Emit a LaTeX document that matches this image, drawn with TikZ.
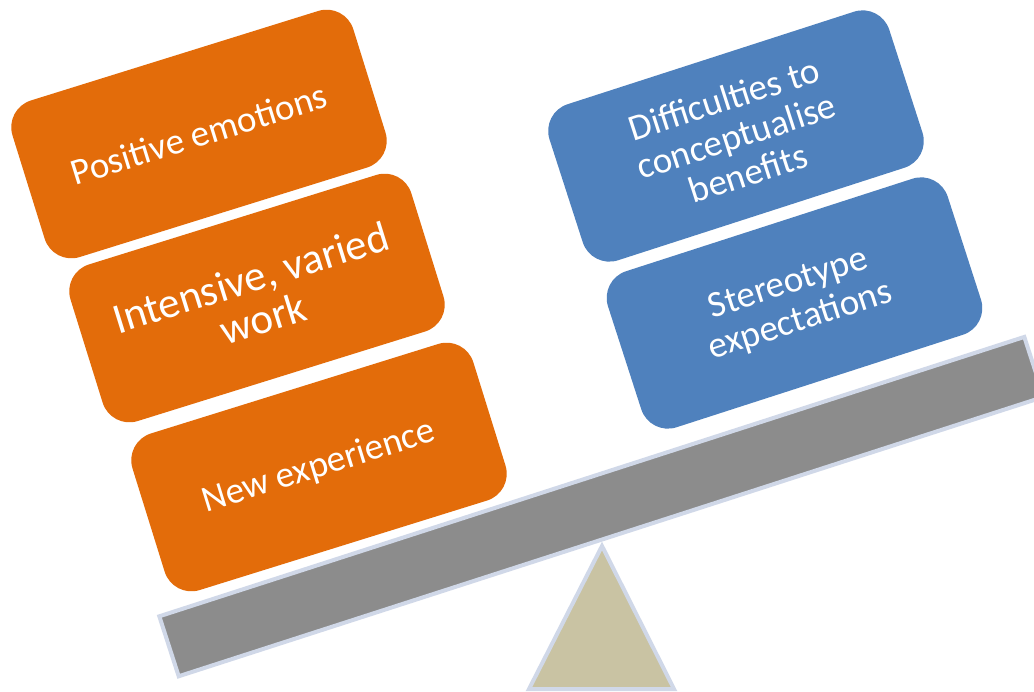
\documentclass[tikz,border=0pt]{standalone}
\usepackage{fontspec}
\setmainfont{Carlito}
\definecolor{boxorange}{HTML}{E36C0A}
\definecolor{boxblue}{HTML}{4F81BD}
\definecolor{beamgray}{HTML}{8C8C8C}
\definecolor{rimblue}{HTML}{D0D8E8}
\definecolor{fulcrum}{HTML}{C9C3A3}
\begin{document}
\begin{tikzpicture}[x=1pt,y=-1pt,
  card/.style={rectangle, rounded corners=28pt, minimum width=357pt, minimum height=164pt,
    inner sep=0pt, text=white, align=center, font=\fontsize{37}{39}\selectfont},
  pro/.style={card, fill=boxorange, rotate=17.3},
  con/.style={card, fill=boxblue, rotate=17.9},
  beamstyle/.style={rectangle, fill=beamgray, draw=rimblue, line width=4pt,
    minimum width=909pt, minimum height=63pt, inner sep=0pt, rotate=17.9}]
\useasboundingbox (0,0) rectangle (1034,692);
\fill[white] (0,0) rectangle (1034,692);
% fulcrum
\draw[fill=fulcrum, draw=rimblue, line width=4pt] (602,546) -- (674,689) -- (529,689) -- cycle;
% beam
\node[beamstyle] (beam) at (601.5,506.6) {};
% left side
\node[pro] (pos) at (199,134) {Positive emotions};
\node[pro, font=\fontsize{43}{43}\selectfont] (work) at (257,298) {Intensive, varied\\work};
\node[pro] (new) at (319,467) {New experience};
% right side
\node[con] (diff) at (736,136) {Difficulties to\\conceptualise\\benefits};
\node[con] (stereo) at (794.5,303) {Stereotype\\expectations};
\end{tikzpicture}
\end{document}
